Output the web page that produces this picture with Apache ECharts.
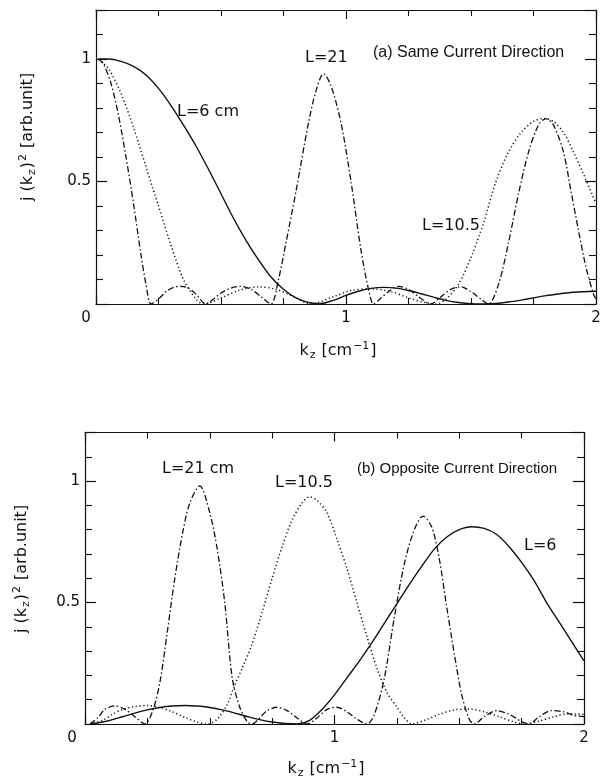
<!DOCTYPE html>
<html><head><meta charset="utf-8">
<script src="https://cdn.jsdelivr.net/npm/echarts@6.0.0/dist/echarts.min.js"></script>
<style>html,body{margin:0;padding:0;background:#fff}#c{width:605px;height:781px}</style>
</head><body><div id="c"></div>
<script>
// ---------- (a) Same Current Direction ----------
const kA6 = [0.01,0.05,0.1,0.15,0.2,0.25,0.3,0.35,0.4,0.45,0.5,0.55,0.6,0.65,0.7,0.75,0.8,0.85,0.9,0.95,1.0,1.05,1.1,1.15,1.2,1.25,1.3,1.35,1.4,1.45,1.5,1.55,1.6,1.65,1.7,1.75,1.8,1.85,1.9,1.95,2.0];
const jA6 = [1.0,1.0,0.99,0.97,0.935,0.88,0.81,0.73,0.645,0.55,0.45,0.35,0.26,0.18,0.11,0.06,0.025,0.006,0.002,0.015,0.035,0.052,0.064,0.068,0.065,0.055,0.042,0.028,0.015,0.006,0.001,0.0,0.002,0.008,0.016,0.025,0.034,0.041,0.047,0.05,0.052];

const kA105 = [0.01,0.05,0.1,0.15,0.2,0.25,0.3,0.35,0.4,0.43,0.5,0.57,0.65,0.72,0.79,0.86,0.95,1.02,1.1,1.18,1.25,1.32,1.36,1.4,1.45,1.5,1.55,1.6,1.65,1.7,1.75,1.79,1.83,1.87,1.91,1.95,2.0];
const jA105 = [1.0,0.96,0.86,0.72,0.56,0.4,0.24,0.1,0.02,0.0,0.025,0.055,0.07,0.06,0.03,0.0,0.03,0.055,0.062,0.05,0.025,0.005,0.0,0.02,0.08,0.19,0.33,0.5,0.62,0.7,0.745,0.757,0.745,0.7,0.62,0.53,0.41];

const kA21 = [0.01,0.03,0.06,0.09,0.12,0.15,0.18,0.2,0.22,0.25,0.28,0.31,0.34,0.37,0.4,0.44,0.47,0.5,0.54,0.58,0.62,0.66,0.7,0.73,0.76,0.8,0.85,0.88,0.91,0.94,0.98,1.02,1.06,1.09,1.11,1.13,1.17,1.21,1.25,1.29,1.34,1.38,1.42,1.46,1.5,1.54,1.57,1.61,1.65,1.69,1.73,1.77,1.8,1.83,1.87,1.9,1.93,1.96,1.99,2.0];
const jA21 = [1.0,0.98,0.9,0.77,0.6,0.41,0.2,0.08,0.0,0.02,0.05,0.068,0.072,0.065,0.04,0.0,0.02,0.045,0.065,0.072,0.06,0.03,0.0,0.1,0.25,0.46,0.74,0.87,0.94,0.89,0.74,0.5,0.22,0.06,0.0,0.015,0.05,0.072,0.06,0.03,0.0,0.03,0.06,0.07,0.05,0.02,0.0,0.08,0.25,0.45,0.62,0.73,0.757,0.73,0.62,0.46,0.3,0.15,0.04,0.02];

// ---------- (b) Opposite Current Direction ----------
const kB6 = [0.02,0.05,0.1,0.15,0.2,0.25,0.3,0.35,0.4,0.45,0.5,0.55,0.6,0.65,0.7,0.75,0.8,0.85,0.9,0.95,1.0,1.05,1.1,1.15,1.2,1.25,1.3,1.35,1.4,1.45,1.5,1.55,1.6,1.65,1.7,1.75,1.8,1.85,1.9,1.95,2.0];
const jB6 = [0.0,0.004,0.015,0.03,0.045,0.058,0.068,0.074,0.076,0.074,0.068,0.058,0.045,0.031,0.018,0.008,0.002,0.0,0.015,0.06,0.12,0.19,0.26,0.335,0.415,0.495,0.575,0.65,0.72,0.77,0.8,0.812,0.805,0.78,0.73,0.665,0.59,0.5,0.42,0.34,0.26];

const kB105 = [0.02,0.07,0.11,0.15,0.2,0.25,0.3,0.35,0.4,0.45,0.49,0.53,0.57,0.6,0.63,0.67,0.71,0.75,0.79,0.83,0.87,0.9,0.93,0.97,1.01,1.05,1.09,1.13,1.17,1.21,1.25,1.28,1.31,1.36,1.42,1.48,1.54,1.6,1.66,1.72,1.76,1.82,1.88,1.94,2.0];
const jB105 = [0.0,0.015,0.04,0.06,0.072,0.076,0.068,0.05,0.027,0.008,0.0,0.02,0.08,0.16,0.23,0.33,0.46,0.6,0.73,0.84,0.91,0.935,0.92,0.87,0.76,0.64,0.5,0.36,0.23,0.13,0.07,0.025,0.0,0.015,0.04,0.058,0.062,0.05,0.03,0.008,0.0,0.012,0.03,0.042,0.04];

const kB21 = [0.02,0.05,0.08,0.12,0.16,0.2,0.24,0.27,0.3,0.33,0.36,0.39,0.42,0.46,0.5,0.53,0.56,0.59,0.62,0.65,0.67,0.7,0.73,0.77,0.81,0.85,0.89,0.93,0.97,1.01,1.05,1.09,1.13,1.16,1.2,1.24,1.28,1.32,1.355,1.39,1.42,1.45,1.48,1.51,1.54,1.56,1.6,1.65,1.7,1.75,1.78,1.82,1.87,1.92,1.96,2.0];
const jB21 = [0.0,0.025,0.06,0.075,0.06,0.03,0.0,0.05,0.17,0.38,0.6,0.78,0.91,0.98,0.87,0.72,0.5,0.19,0.07,0.01,0.0,0.025,0.055,0.069,0.055,0.025,0.0,0.025,0.06,0.069,0.05,0.02,0.0,0.04,0.19,0.44,0.66,0.8,0.856,0.81,0.68,0.48,0.29,0.12,0.02,0.0,0.03,0.055,0.04,0.01,0.0,0.03,0.055,0.05,0.035,0.03];

// tick labels
const xTickLabels = [0, 1, 2];
const yTickLabels = [0.5, 1];

const INK = '#111';
const FONT = 'DejaVu Sans';
const chart = echarts.init(document.getElementById('c'), null, {renderer: 'canvas'});

function pairs(k, j) { return k.map((x, i) => [x, j[i]]); }

function xAx(gi, pos, showLabel, zeroPad) {
  return {
    gridIndex: gi, type: 'value', position: pos, min: 0, max: 2, interval: 1,
    axisLine: {show: true, onZero: false, lineStyle: {color: INK, width: 1.2}},
    axisTick: {show: true, inside: true, length: 9, lineStyle: {color: INK, width: 1.2}},
    minorTick: {show: true, splitNumber: 4, length: 6, lineStyle: {color: INK, width: 1.1}},
    splitLine: {show: false}, minorSplitLine: {show: false},
    axisLabel: showLabel ? {
      show: true, margin: 7, color: INK, fontFamily: FONT, fontSize: 15,
      formatter: v => xTickLabels.indexOf(v) < 0 ? '' : (v === 0 ? '{z|0}' : String(v)),
      rich: {z: {padding: [0, zeroPad, 0, 0], fontSize: 15, fontFamily: FONT, color: INK}}
    } : {show: false}
  };
}
function yAx(gi, pos, showLabel) {
  return {
    gridIndex: gi, type: 'value', position: pos, min: 0, max: 1.2, interval: 0.5,
    axisLine: {show: true, onZero: false, lineStyle: {color: INK, width: 1.2}},
    axisTick: {show: true, inside: true, length: 11, lineStyle: {color: INK, width: 1.2}},
    minorTick: {show: true, splitNumber: 5, length: 7, lineStyle: {color: INK, width: 1.1}},
    splitLine: {show: false}, minorSplitLine: {show: false},
    axisLabel: showLabel ? {
      show: true, margin: 5, color: INK, fontFamily: FONT, fontSize: 15,
      formatter: v => yTickLabels.indexOf(v) < 0 ? '' : String(v)
    } : {show: false}
  };
}

const styles = {
  solid: {color: INK, width: 1.4, type: 'solid'},
  dotted: {color: INK, width: 1.5, type: [1.2, 2.6]},
  dashdot: {color: INK, width: 1.3, type: [6, 2.5, 1.5, 2.5]}
};
function ser(name, xi, yi, k, j, st) {
  return {
    name, type: 'line', xAxisIndex: xi, yAxisIndex: yi, data: pairs(k, j),
    showSymbol: false, symbol: 'none', smooth: 0.3,
    lineStyle: styles[st], clip: true, silent: true, animation: false
  };
}

const rich = {
  n: {fontFamily: FONT, fontSize: 16, color: INK},
  sub: {fontFamily: FONT, fontSize: 11, color: INK, padding: [9, 1, 0, 1]},
  sup: {fontFamily: FONT, fontSize: 11, color: INK, padding: [0, 1, 9, 1]}
};
function txt(x, y, text, size, family, align) {
  return {type: 'text', x, y, silent: true,
    style: {text, fill: INK, fontSize: size, fontFamily: family || FONT, align: align || 'left', verticalAlign: 'middle'}};
}
function richTxt(x, y, text, rot) {
  return {type: 'text', x, y, rotation: rot || 0, silent: true,
    style: {text, rich, fill: INK, fontSize: 16, fontFamily: FONT, align: 'center', verticalAlign: 'middle'}};
}
const yTitle = '{n|j (k}{sub|z}{n|)}{sup|2}{n| [arb.unit]}';
const xTitle = '{n|k}{sub|z}{n| [cm}{sup|\u22121}{n|]}';
const SANS = 'Liberation Sans';

chart.setOption({
  animation: false,
  backgroundColor: '#fff',
  grid: [
    {left: 96, top: 10, width: 500, height: 294, containLabel: false, outerBoundsMode: 'none'},
    {left: 85, top: 432.5, width: 499, height: 291.5, containLabel: false, outerBoundsMode: 'none'}
  ],
  xAxis: [xAx(0, 'bottom', true, 20), xAx(0, 'top', false), xAx(1, 'bottom', true, 26), xAx(1, 'top', false)],
  yAxis: [yAx(0, 'left', true), yAx(0, 'right', false), yAx(1, 'left', true), yAx(1, 'right', false)],
  series: [
    ser('L=6 (a)', 0, 0, kA6, jA6, 'solid'),
    ser('L=10.5 (a)', 0, 0, kA105, jA105, 'dotted'),
    ser('L=21 (a)', 0, 0, kA21, jA21, 'dashdot'),
    ser('L=6 (b)', 2, 2, kB6, jB6, 'solid'),
    ser('L=10.5 (b)', 2, 2, kB105, jB105, 'dotted'),
    ser('L=21 (b)', 2, 2, kB21, jB21, 'dashdot')
  ],
  graphic: [
    txt(373, 53, '(a) Same Current Direction', 16, SANS),
    txt(305, 58, 'L=21', 16),
    txt(177, 112, 'L=6 cm', 16),
    txt(422, 226, 'L=10.5', 16),
    txt(162, 469, 'L=21 cm', 16),
    txt(275, 483, 'L=10.5', 16),
    txt(357, 469, '(b) Opposite Current Direction', 15, SANS),
    txt(524, 546, 'L=6', 16),
    richTxt(28, 137, yTitle, Math.PI / 2),
    richTxt(22, 569, yTitle, Math.PI / 2),
    richTxt(338, 351, xTitle),
    richTxt(326, 769, xTitle)
  ]
});
</script></body></html>
